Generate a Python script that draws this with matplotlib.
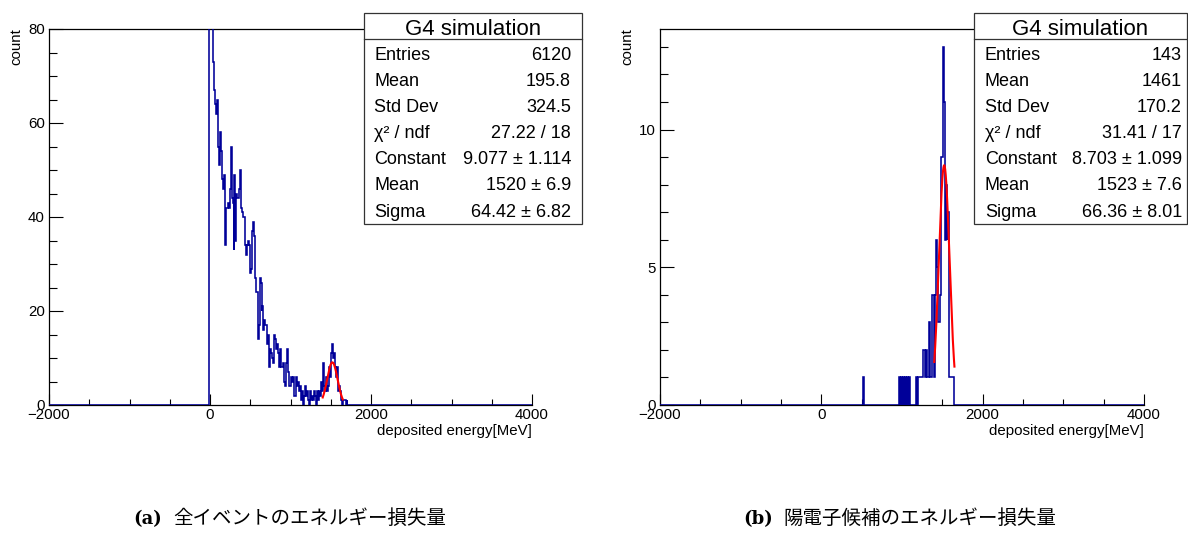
import numpy as np
import matplotlib
matplotlib.use("Agg")
import matplotlib.pyplot as plt
from matplotlib.patches import Rectangle
from matplotlib.ticker import MultipleLocator

plt.rcParams['font.family'] = ['Liberation Sans', 'DejaVu Sans']

W, H = 1188, 536

# Histogram binning: 500 bins of 12 MeV over [-2000, 4000)
bin_width = 12
x_lo, x_hi = -2000, 4000

# (a) all events: counts of consecutive bins starting at the bin edge -8 MeV
all_start = -8
all_counts = [
    3168, 120, 95, 84, 73, 67, 64, 62, 65,
    55, 51, 58, 54, 48, 46, 49, 34,
    42, 42, 43, 42, 46, 55, 44, 43,
    33, 49, 35, 45, 44, 44, 46, 50,
    42, 41, 40, 40, 34, 32, 34, 35,
    34, 28, 29, 37, 39, 36, 27, 24,
    24, 14, 17, 27, 26, 20, 21, 16,
    18, 17, 17, 13, 15, 8, 12, 11,
    10, 9, 15, 14, 12, 13, 11, 8,
    12, 8, 8, 9, 5, 4, 9, 12,
    7, 4, 4, 6, 6, 5, 6, 2,
    2, 6, 4, 5, 3, 4, 1, 3,
    0, 2, 4, 2, 3, 1, 0, 3,
    1, 2, 1, 3, 2, 0, 3, 1,
    3, 3, 2, 5, 3, 9, 4, 3,
    6, 3, 4, 8, 6, 11, 13, 10,
    11, 8, 6, 8, 3, 4, 3, 1,
    0, 1, 1, 1, 0, 1,
]

# (b) positron candidates: lower bin edge [MeV] and count of each filled bin
pos_bin_lo = [520, 964, 988, 1012, 1036, 1060, 1084, 1168, 1180, 1204, 1216,
              1228, 1240, 1252, 1264, 1276, 1288, 1300, 1312, 1324, 1336, 1348,
              1360, 1372, 1384, 1396, 1408, 1420, 1432, 1444, 1456, 1468, 1480,
              1492, 1504, 1516, 1528, 1540, 1552, 1564, 1576, 1588, 1600, 1612,
              1624, 1636]
pos_bin_n = [1, 1, 1, 1, 1, 1, 1, 1, 1, 1, 1,
             1, 1, 1, 2, 2, 1, 2, 1, 1, 3, 1,
             1, 4, 4, 1, 4, 6, 5, 3, 3, 4, 9,
             9, 13, 11, 6, 8, 6, 7, 7, 1, 1, 1,
             1, 1]

# Gaussian fits (constant, mean, sigma) over the fit range
fit_range = (1400, 1650)
all_fit = (9.077, 1520.0, 64.42)
pos_fit = (8.703, 1523.0, 66.36)

stat_title = "G4 simulation"
stat_labels = ["Entries", "Mean", "Std Dev", "χ² / ndf", "Constant", "Mean", "Sigma"]
all_stats = ["6120", "195.8", "324.5", "27.22 / 18", "9.077 ± 1.114", "1520 ± 6.9", "64.42 ± 6.82"]
pos_stats = ["143", "1461", "170.2", "31.41 / 17", "8.703 ± 1.099", "1523 ± 7.6", "66.36 ± 8.01"]

x_title = "deposited energy[MeV]"
y_title = "count"
captions = [("(a)", "全イベントのエネルギー損失量"), ("(b)", "陽電子候補のエネルギー損失量")]

HIST_COLOR = "#000099"
edges = np.arange(x_lo, x_hi + bin_width, bin_width)


def contiguous_hist(start, counts):
    h = np.zeros(len(edges) - 1)
    i0 = (start - x_lo) // bin_width
    h[i0:i0 + len(counts)] = counts
    return h


def sparse_hist(lows, ns):
    h = np.zeros(len(edges) - 1)
    for lo, n in zip(lows, ns):
        h[(lo - x_lo) // bin_width] = n
    return h


def fx(px):
    return px / W


def fy(py):
    return 1 - py / H


fig = plt.figure(figsize=(W / 100, H / 100), dpi=100)


def make_axes(left_px, right_px, ymax, ymajor, yminor):
    ax = fig.add_axes([fx(left_px), fy(405), (right_px - left_px) / W, 376 / H])
    ax.set_xlim(x_lo, x_hi)
    ax.set_ylim(0, ymax)
    ax.xaxis.set_major_locator(MultipleLocator(2000))
    ax.xaxis.set_minor_locator(MultipleLocator(500))
    ax.yaxis.set_major_locator(MultipleLocator(ymajor))
    ax.yaxis.set_minor_locator(MultipleLocator(yminor))
    ax.tick_params(axis='x', which='major', direction='in', length=8, width=0.8,
                   pad=2.5, labelsize=10.8)
    ax.tick_params(axis='x', which='minor', direction='in', length=4.3, width=0.8)
    ax.tick_params(axis='y', which='major', direction='in', length=10, width=0.8,
                   pad=2.9, labelsize=10.8)
    ax.tick_params(axis='y', which='minor', direction='in', length=5.4, width=0.8)
    for s in ax.spines.values():
        s.set_linewidth(0.9)
    ax.spines['right'].set_visible(False)
    return ax


def stat_box(x0, x1, label_x, value_x, values):
    y0, ydiv, y1 = 13.3, 39.0, 224.0
    fig.add_artist(Rectangle((fx(x0), fy(y1)), (x1 - x0) / W, (y1 - y0) / H,
                             transform=fig.transFigure, facecolor='white',
                             edgecolor='#333333', linewidth=0.9, zorder=5))
    fig.add_artist(plt.Line2D([fx(x0), fx(x1)], [fy(ydiv), fy(ydiv)],
                              transform=fig.transFigure, color='#333333',
                              linewidth=0.9, zorder=6))
    fig.text(fx((x0 + x1) / 2), fy(35.0), stat_title, ha='center', va='baseline',
             fontsize=16, zorder=7)
    for i, (lab, val) in enumerate(zip(stat_labels, values)):
        yb = 59.5 + 26.2 * i
        fig.text(fx(label_x), fy(yb), lab, ha='left', va='baseline', fontsize=13, zorder=7)
        fig.text(fx(value_x), fy(yb), val, ha='right', va='baseline', fontsize=13, zorder=7)


def draw_fit(ax, params):
    c, m, s = params
    xs = np.linspace(fit_range[0], fit_range[1], 200)
    ax.plot(xs, c * np.exp(-0.5 * ((xs - m) / s) ** 2), color='red', lw=1.5, zorder=4)


# Panel (a)
ax1 = make_axes(49, 532, 80, 20, 5)
ax1.stairs(contiguous_hist(all_start, all_counts), edges, color=HIST_COLOR, lw=1.15, zorder=3)
draw_fit(ax1, all_fit)
stat_box(363.5, 581.7, 374, 571, all_stats)

# Panel (b)
ax2 = make_axes(660, 1144, 13.65, 5, 1)
ax2.stairs(sparse_hist(pos_bin_lo, pos_bin_n), edges, color=HIST_COLOR, lw=1.15, zorder=3)
draw_fit(ax2, pos_fit)
stat_box(974, 1187, 985, 1182, pos_stats)

# Axis titles
for ax_left, ax_right in [(49, 532), (660, 1144)]:
    fig.text(fx(ax_left - 33), fy(28), y_title, rotation=90, ha='center', va='top',
             fontsize=10.8)
    fig.text(fx(ax_right), fy(435), x_title, ha='right', va='baseline', fontsize=10.8)

# Captions
for (tag, text), x_tag, x_text in zip(captions, [133, 743], [173, 783]):
    fig.text(fx(x_tag), fy(524), tag, ha='left', va='baseline', fontsize=13,
             family=['DejaVu Serif'], weight='bold')
    fig.text(fx(x_text), fy(524), text, ha='left', va='baseline', fontsize=14,
             family=['Noto Sans CJK JP', 'DejaVu Sans'])

fig.savefig("out.png", dpi=100)
